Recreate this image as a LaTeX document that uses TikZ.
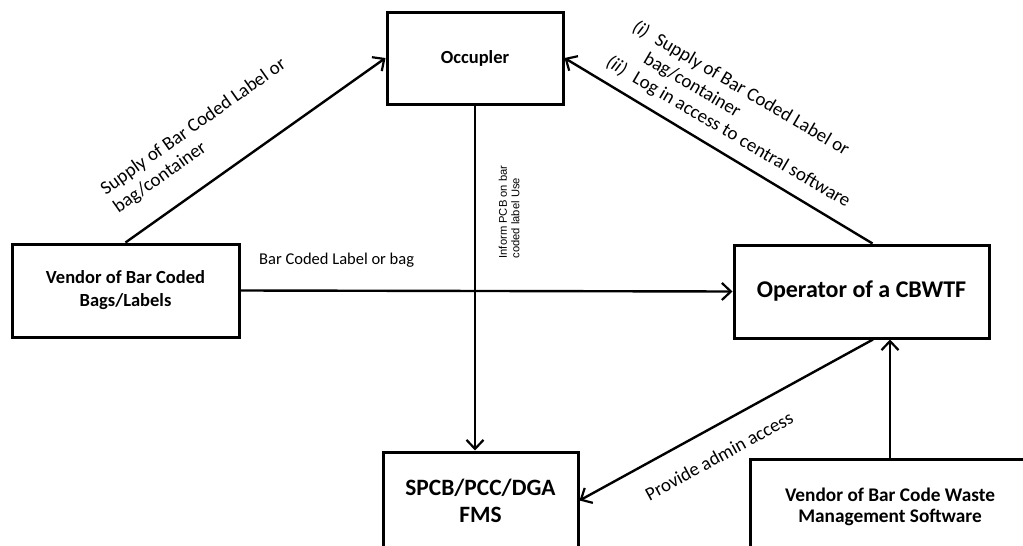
\documentclass[tikz,border=0pt]{standalone}
\usepackage{fontspec}
\setmainfont{Carlito}
\newfontfamily\arialfont{Liberation Sans}
\usetikzlibrary{arrows.meta}
\begin{document}
\begin{tikzpicture}[x=1pt,y=-1pt,
  box/.style={draw,line width=3pt,rectangle,align=center,font=\bfseries,inner sep=0pt},
  arr/.style={line width=2.4pt,-{Straight Barb[length=9pt,width=17pt,line width=2.2pt]}},
  lbl/.style={inner sep=0pt,font=\fontsize{19}{22}\selectfont}]
\useasboundingbox (0,0) rectangle (1023,546);
\fill[white] (0,0) rectangle (1023,546);
% boxes
\node[box,minimum width=176pt,minimum height=92pt,font=\bfseries\fontsize{18.5}{22}\selectfont] (occ) at (475,58) {Occupler};
\node[box,minimum width=227pt,minimum height=93pt,font=\bfseries\fontsize{18.5}{23}\selectfont] (vbag) at (125.5,290.5) {Vendor of Bar Coded\\Bags/Labels};
\node[box,minimum width=255pt,minimum height=93pt,font=\bfseries\fontsize{24}{28}\selectfont] (op) at (861.5,291.5) {Operator of a CBWTF};
\node[box,minimum width=195pt,minimum height=97pt,font=\bfseries\fontsize{23.4}{27}\selectfont] (spcb) at (480.5,500.5) {SPCB/PCC/DGA\\FMS};
\node[box,minimum width=280pt,minimum height=96pt,font=\bfseries\fontsize{19.3}{21}\selectfont] (vsw) at (890,507) {Vendor of Bar Code Waste\\Management Software};
% connectors
\draw[arr] (vbag.north) -- (occ.west);
\draw[arr] ([xshift=11pt]op.north) -- (occ.east);
\draw[arr] (occ.south) -- (occ.south |- spcb.north);
\draw[arr] (vbag.east) -- (op.west);
\draw[arr] ([xshift=11.5pt]op.south) -- (spcb.east);
\draw[arr] (vsw.north) -- (vsw.north |- op.south);
% labels
\node[lbl,rotate=35.3,align=left] (l1) at (200,136) {Supply of Bar Coded Label or\\bag/container};
\node[lbl,rotate=-30.5] (l2) at (739,114) {\begin{tabular}{@{}r@{\hspace{10pt}}l@{}}\textit{(i)} & Supply of Bar Coded Label or\\
 & bag/container\\
\textit{(ii)} & Log in access to central software\end{tabular}};
\node[lbl,anchor=base west,font=\fontsize{16.5}{20}\selectfont] (l3) at (259,264) {Bar Coded Label or bag};
\node[inner sep=0pt,rotate=90,align=left,font=\arialfont\fontsize{11.2}{12.5}\selectfont] (l4) at (509,212) {Inform PCB on bar\\coded label Use};
\node[lbl,rotate=28.6] (l5) at (719,456) {Provide admin access};
\end{tikzpicture}
\end{document}
